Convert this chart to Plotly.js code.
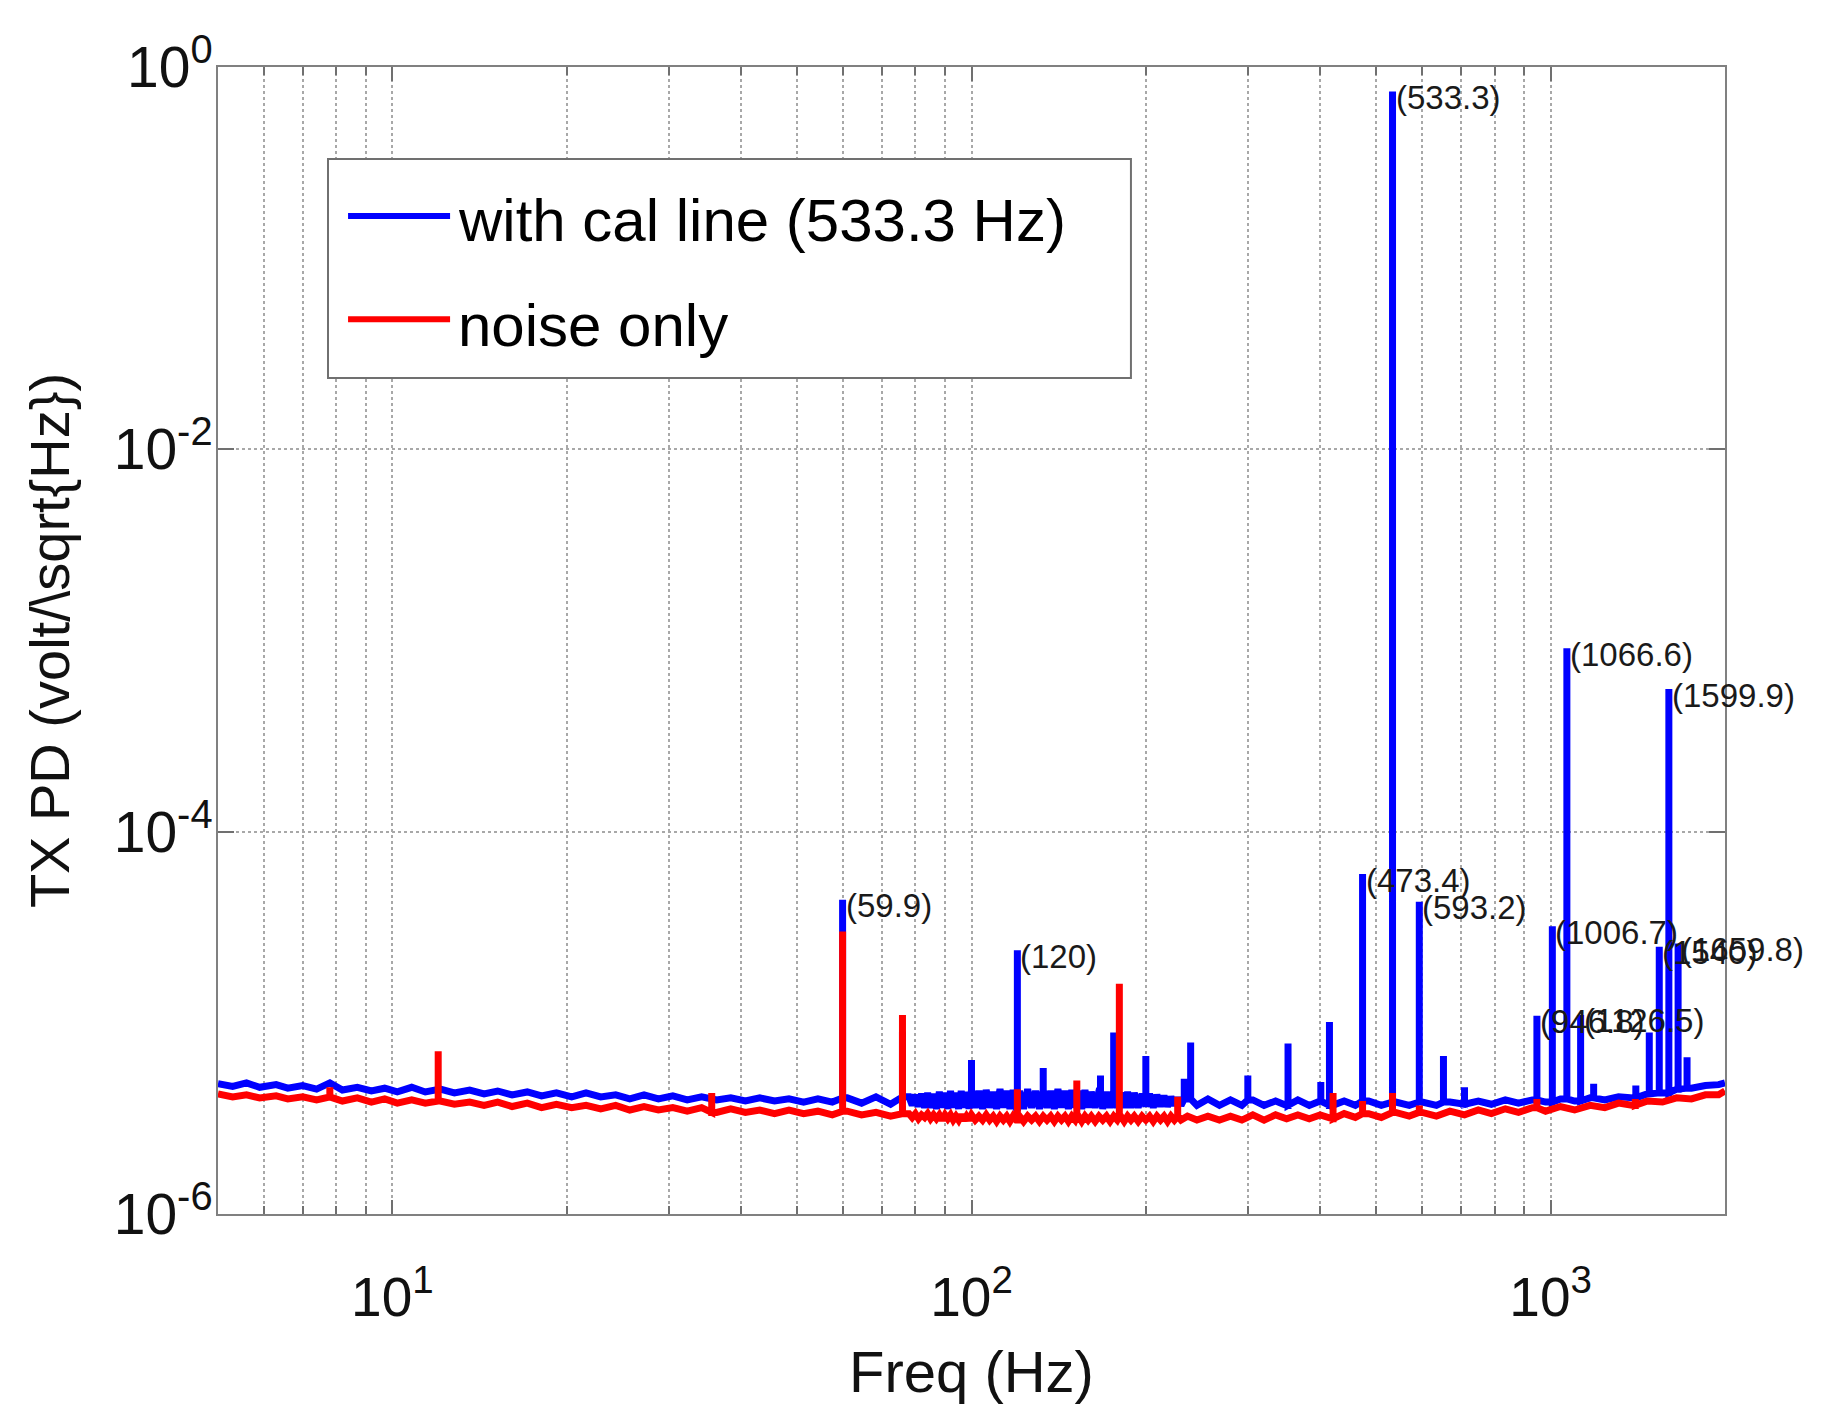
<!DOCTYPE html>
<html>
<head>
<meta charset="utf-8">
<script src="https://cdn.plot.ly/plotly-3.0.1.min.js"></script>
<style>html,body{margin:0;padding:0;background:#fff;}#chart{width:1831px;height:1414px;}</style>
</head>
<body>
<div id="chart"></div>
<script>
// ---- Data (amplitudes in units of 1e-6 volt/sqrt(Hz)) ----
const floorFreq = [5,5.3,5.6,5.9,6.3,6.6,7.0,7.4,7.8,8.2,8.7,9.2,9.7,10.2,10.8,11.4,12.1,12.8,13.6,14.4,15.2,16.1,17.1,18.1,19.2,20.4,21.6,22.9,24.3,25.7,27.2,28.8,30.5,32.3,34.2,36.3,38.4,40.7,43.1,45.7,48.4,51.3,54.3,57.5,61,64.6,68.4,72.5,
  78,79,80,81,82,83,84,85,86,87,88,89,90,91,92,93,94,95,96,97,98,99,100,
  101.5,103,104.5,106,107.5,109,110.5,112,113.5,115,116.5,118,119.5,
  121,123,125,127,129,131,133,135,137,139,141,143,145,147,149,151,153,155,157,159,161,
  163.5,166,168.5,171,173.5,176,178.5,181,183.5,186,188.5,191,
  194,197,200,203,206,209,212,215,218,221,224,227,230,
  236,245,256,268,280,293,306,320,335,350,366,383,400,420,440,460,485,510,540,570,600,635,670,710,750,790,835,880,930,980,1040,1100,1170,1240,1310,1390,1470,1560,1650,1750,1850,1950,2000];

const blueFloor = [4.8,4.65,4.85,4.6,4.75,4.55,4.7,4.5,4.85,4.45,4.6,4.4,4.55,4.35,4.6,4.35,4.5,4.3,4.45,4.25,4.4,4.2,4.35,4.15,4.3,4.1,4.3,4.1,4.2,4.0,4.2,4.0,4.15,3.95,4.1,3.95,4.05,3.9,4.05,3.9,4.0,3.85,4.0,3.85,4.05,3.8,4.1,3.75,
  4.1,3.7,4.2,3.65,4.25,3.6,4.3,3.6,4.25,3.55,4.35,3.6,4.3,3.55,4.4,3.6,4.3,3.55,4.4,3.6,4.35,3.55,4.45,
  3.6,4.4,3.55,4.45,3.6,4.35,3.55,4.5,3.6,4.4,3.55,4.45,3.6,
  4.4,3.55,4.5,3.6,4.4,3.55,4.45,3.6,4.4,3.55,4.5,3.6,4.4,3.55,4.45,3.6,4.4,3.55,4.45,3.6,4.35,
  3.6,4.4,3.55,4.35,3.6,4.4,3.6,4.3,3.6,4.35,3.6,4.3,
  3.6,4.25,3.65,4.25,3.6,4.2,3.65,4.15,3.65,4.1,3.7,4.05,3.7,
  4.0,3.7,4.0,3.7,3.95,3.7,3.95,3.7,3.9,3.7,3.95,3.7,3.9,3.7,3.9,3.7,3.9,3.7,3.85,3.7,3.85,3.7,3.85,3.75,3.9,3.75,3.95,3.8,3.95,3.85,4.0,3.9,4.05,3.95,4.1,4.05,4.25,4.3,4.5,4.55,4.7,4.75,4.85];

const redFloor = [4.25,4.1,4.2,4.05,4.15,4.0,4.1,3.95,4.1,3.9,4.05,3.85,4.0,3.8,3.95,3.8,3.9,3.75,3.85,3.7,3.85,3.65,3.8,3.6,3.75,3.6,3.7,3.55,3.7,3.5,3.65,3.5,3.6,3.45,3.6,3.4,3.55,3.4,3.5,3.35,3.5,3.35,3.45,3.3,3.45,3.3,3.4,3.25,
  3.35,3.2,3.35,3.15,3.3,3.2,3.35,3.15,3.3,3.15,3.3,3.1,3.3,3.15,3.3,3.1,3.25,3.1,3.3,3.1,3.25,3.1,3.3,
  3.1,3.25,3.1,3.3,3.1,3.25,3.05,3.25,3.1,3.25,3.05,3.25,3.1,
  3.25,3.05,3.25,3.1,3.25,3.05,3.25,3.1,3.25,3.05,3.25,3.1,3.25,3.05,3.25,3.1,3.25,3.05,3.25,3.1,3.25,
  3.05,3.25,3.1,3.25,3.05,3.25,3.1,3.25,3.05,3.25,3.1,3.25,
  3.05,3.25,3.1,3.25,3.05,3.25,3.1,3.25,3.05,3.25,3.1,3.25,3.1,
  3.25,3.1,3.25,3.1,3.25,3.1,3.3,3.1,3.3,3.15,3.3,3.15,3.3,3.15,3.35,3.2,3.35,3.2,3.4,3.25,3.4,3.25,3.45,3.3,3.5,3.35,3.55,3.4,3.6,3.45,3.65,3.5,3.7,3.6,3.8,3.7,3.9,3.85,4.05,4.0,4.2,4.2,4.4];

const blueSpikeFreq = [59.9,76,100,120,133,167,176,200,233,239,300,352,401,415,473.4,533.3,593.2,653,710,946.8,1006.7,1066.6,1126.5,1186.4,1403,1480.1,1540,1599.9,1659.8,1719.8];
const blueSpikePeak = [44,9.0,6.4,24,5.8,5.3,8.9,6.7,5.1,7.9,5.3,7.8,4.9,10.1,60,744000,43,6.7,4.6,10.9,32,910,11,4.8,4.7,8.9,25,557,26,6.6];

const redSpikeFreq = [7.8,12,35.6,59.9,76,120,152,180,227,421,473.4,533.3,593.2,946.8,1400];
const redSpikePeak = [4.6,7.1,4.3,30,11,4.5,5.0,16,4.1,4.3,3.9,4.3,3.7,4.0,4.0];

const labelFreq = [533.3,1066.6,1599.9,473.4,593.2,59.9,120,1006.7,1659.8,1540,946.8,1126.5];

const seriesNames = ['with cal line (533.3 Hz)', 'noise only'];
const xTickVals = [10,100,1000];
const xTickText = ['10<sup>1</sup>','10<sup>2</sup>','10<sup>3</sup>'];
const xMinorVals = [6,7,8,9,20,30,40,50,60,70,80,90,200,300,400,500,600,700,800,900,2000];
const yTickVals = [1e-6,1e-4,1e-2,1];
const yTickText = ['10<sup>-6</sup>','10<sup>-4</sup>','10<sup>-2</sup>','10<sup>0</sup>'];
const UNIT = 1e-6;

// ---- build each series: floor points plus vertical spike lines ----
function nearestIdx(f){
  let best=0, bd=Infinity;
  floorFreq.forEach((g,i)=>{const d=Math.abs(Math.log(g)-Math.log(f)); if(d<bd){bd=d;best=i;}});
  return best;
}
function buildSeries(floorV, spF, spV){
  const pts = floorFreq.map((f,i)=>({f:f, v:floorV[i], o:0}));
  spF.forEach((f,i)=>{
    const base = floorV[nearestIdx(f)];
    pts.push({f:f, v:base, o:1},{f:f, v:spV[i], o:2},{f:f, v:base, o:3});
  });
  pts.sort((a,b)=> a.f===b.f ? a.o-b.o : a.f-b.f);
  return {x: pts.map(p=>p.f), y: pts.map(p=>p.v*UNIT)};
}
const blue = buildSeries(blueFloor, blueSpikeFreq, blueSpikePeak);
const red = buildSeries(redFloor, redSpikeFreq, redSpikePeak);

const traces = [
  {x: blue.x, y: blue.y, type:'scatter', mode:'lines', name: seriesNames[0],
   line:{color:'#0000ff', width:7, simplify:false}},
  {x: red.x, y: red.y, type:'scatter', mode:'lines', name: seriesNames[1],
   line:{color:'#ff0000', width:7, simplify:false}}
];

const FONT = 'Liberation Sans, Arial, Helvetica, sans-serif';

const annotations = labelFreq.map(f=>{
  const k = blueSpikeFreq.indexOf(f);
  return {x: Math.log10(f), y: Math.log10(blueSpikePeak[k]*UNIT), xref:'x', yref:'y',
    text:'(' + f + ')', showarrow:false, xanchor:'left', yanchor:'middle',
    xshift:1, yshift:-6, font:{family:FONT, size:33, color:'#1a1a1a'}};
});
// custom legend text
annotations.push({xref:'paper', yref:'paper', x:0.158, y:0.866, text:seriesNames[0], showarrow:false,
  xanchor:'left', yanchor:'middle', font:{family:FONT, size:60, color:'#000'}});
annotations.push({xref:'paper', yref:'paper', x:0.158, y:0.775, text:seriesNames[1], showarrow:false,
  xanchor:'left', yanchor:'middle', font:{family:FONT, size:60, color:'#000'}});

const shapes = [
  {type:'rect', xref:'paper', yref:'paper', x0:0.073, x1:0.6058, y0:0.7289, y1:0.9198,
   fillcolor:'#ffffff', line:{color:'#707070', width:2}, layer:'above'},
  {type:'line', xref:'paper', yref:'paper', x0:0.0863, x1:0.154, y0:0.870, y1:0.870,
   line:{color:'#0000ff', width:6}, layer:'above'},
  {type:'line', xref:'paper', yref:'paper', x0:0.0863, x1:0.154, y0:0.780, y1:0.780,
   line:{color:'#ff0000', width:6}, layer:'above'}
];

const gridC = '#a8a8a8';
const layout = {
  width:1831, height:1414,
  margin:{l:218, r:106, t:67, b:200},
  paper_bgcolor:'#ffffff', plot_bgcolor:'#ffffff',
  showlegend:false,
  font:{family:FONT, color:'#000'},
  xaxis:{
    type:'log', range:[Math.log10(5), Math.log10(2000)],
    tickmode:'array', tickvals:xTickVals, ticktext:xTickText,
    ticks:'inside', ticklen:14, tickwidth:1.5, tickcolor:'#707070',
    showline:true, linecolor:'#808080', linewidth:2, mirror:'ticks',
    showgrid:true, gridcolor:gridC, griddash:'dot', gridwidth:1.5,
    zeroline:false, ticklabelstandoff:34,
    minor:{tickmode:'array', tickvals:xMinorVals, ticks:'inside', ticklen:8, tickcolor:'#707070', tickwidth:1.5,
      showgrid:true, gridcolor:gridC, griddash:'dot', gridwidth:1.5},
    tickfont:{family:FONT, size:55, color:'#111'},
    title:{text:'Freq (Hz)', font:{family:FONT, size:58, color:'#111'}, standoff:24}
  },
  yaxis:{
    type:'log', range:[-6, 0],
    tickmode:'array', tickvals:yTickVals, ticktext:yTickText,
    ticks:'inside', ticklen:16, tickwidth:1.5, tickcolor:'#707070',
    showline:true, linecolor:'#808080', linewidth:2, mirror:'ticks',
    showgrid:true, gridcolor:gridC, griddash:'dot', gridwidth:1.5,
    zeroline:false, ticklabelstandoff:-8,
    tickfont:{family:FONT, size:57, color:'#111'},
    title:{text:'TX PD (volt/\\sqrt{Hz})', font:{family:FONT, size:56, color:'#111'}, standoff:26}
  },
  annotations: annotations,
  shapes: shapes
};

Plotly.newPlot('chart', traces, layout, {displayModeBar:false, responsive:false});
</script>
</body>
</html>
